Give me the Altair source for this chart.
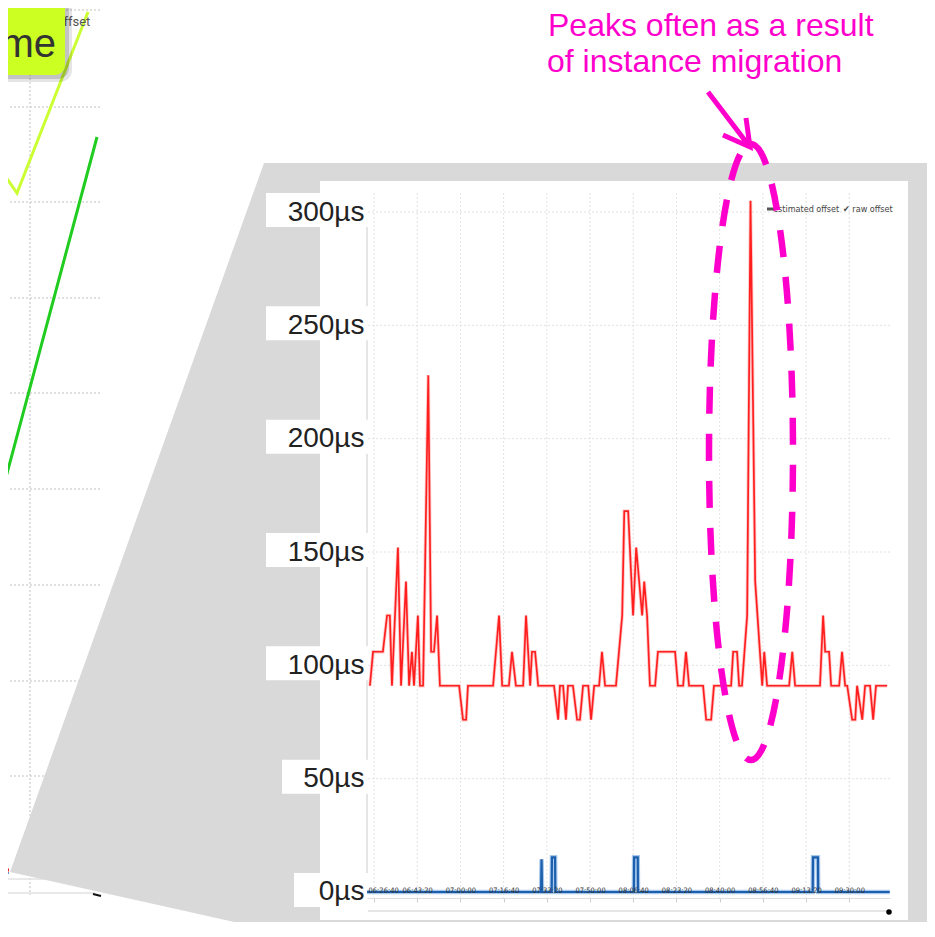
import altair as alt
import pandas as pd

# ---------------- data ----------------
# minutes after 06:00 and raw offset in microseconds
raw_minutes = [
    25.1, 26.3, 30.1, 31.7, 32.8, 33.6, 35.9, 37.1, 39.0, 40.2,
    41.3, 42.1, 43.6, 44.4, 45.6, 47.6, 48.7, 49.8, 51.0, 52.1,
    59.5, 61.0, 62.2, 62.9, 72.6, 74.9, 76.1, 78.7, 79.9, 81.4,
    84.2, 85.3, 86.9, 87.6, 88.8, 90.0, 96.1, 97.7, 98.4, 99.6,
    100.7, 101.5, 103.4, 105.0, 106.1, 107.3, 109.3, 110.4, 111.6, 113.5,
    114.6, 115.8, 120.0, 122.4, 123.2, 124.7, 126.6, 127.8, 130.1, 130.9,
    132.0, 133.1, 135.1, 136.2, 142.8, 143.9, 145.9, 147.0, 148.2, 153.6,
    154.8, 156.7, 157.8, 164.4, 165.2, 166.7, 167.5, 168.6, 170.6, 171.9,
    173.7, 176.4, 177.2, 178.3, 186.8, 188.0, 189.1, 198.7, 199.9, 200.7,
    202.2, 203.0, 206.1, 207.2, 208.4, 209.2, 211.1, 212.3, 213.0, 215.0,
    216.1, 218.0, 219.2, 220.3, 224.6,
]
raw_values = [
    91, 106, 106, 122, 122, 91, 152, 91, 137, 91,
    106, 91, 122, 91, 91, 228, 106, 106, 122, 91,
    91, 76, 76, 91, 91, 122, 91, 91, 106, 91,
    91, 122, 91, 106, 106, 91, 91, 76, 91, 91,
    76, 91, 91, 76, 76, 91, 91, 76, 91, 91,
    106, 91, 91, 122, 168, 168, 122, 152, 122, 137,
    122, 91, 91, 106, 106, 91, 91, 106, 91, 91,
    76, 76, 91, 91, 106, 106, 91, 91, 122, 305,
    137, 91, 106, 91, 91, 106, 91, 91, 122, 106,
    106, 91, 91, 106, 91, 91, 76, 76, 91, 76,
    91, 91, 76, 91, 91,
]
est_minutes = [24.0, 91.1, 91.3, 91.5, 95.2, 95.3, 96.5, 96.6,
               126.9, 127.0, 128.4, 128.5, 195.9, 196.0, 197.9, 198.0, 225.6]
est_values = [0, 0, 14.4, 0, 0, 15.3, 15.3, 0,
              0, 15.3, 15.3, 0, 0, 15.3, 15.3, 0, 0]

y_ticks = [0, 50, 100, 150, 200, 250, 300]
x_tick_labels = ["06:26:40", "06:43:20", "07:00:00", "07:16:40", "07:33:20",
                 "07:50:00", "08:06:40", "08:23:20", "08:40:00", "08:56:40",
                 "09:13:20", "09:30:00"]
domain_start = "06:23:58"
domain_end = "09:45:42"
annotation_lines = ["Peaks often as a result", "of instance migration"]
legend_labels = ["estimated offset", "✔ raw offset"]

DAY = "2017-01-01"


def iso_from_minutes(m):
    t = pd.Timestamp(DAY + " 06:00:00") + pd.Timedelta(minutes=m)
    return t.strftime("%Y-%m-%dT%H:%M:%S")


def dt(hms):
    h, m, s = map(int, hms.split(":"))
    return alt.DateTime(year=2017, month=1, date=1, hours=h, minutes=m, seconds=s)


raw_df = pd.DataFrame({"time": [iso_from_minutes(m) for m in raw_minutes],
                       "offset": raw_values})
est_df = pd.DataFrame({"time": [iso_from_minutes(m) for m in est_minutes],
                       "offset": est_values})
ytick_df = pd.DataFrame({"v": y_ticks})
xtick_df = pd.DataFrame({"time": [DAY + "T" + s for s in x_tick_labels]})
one = pd.DataFrame({"k": [0]})

x_scale = alt.Scale(domain=[dt(domain_start), dt(domain_end)])
y_scale = alt.Scale(domain=[-2.65, 308.4], nice=False, zero=False)

MAGENTA = "#ff00cc"
SMALL = "Liberation Sans Narrow, DejaVu Sans Condensed, Roboto, DejaVu Sans"

X_AXIS = alt.Axis(values=[dt(s) for s in x_tick_labels], format="%H:%M:%S",
                  labelFontSize=7.5, labelFont=SMALL, labelColor="#333333",
                  labelPadding=-16, tickSize=4, tickColor="#cccccc",
                  domainColor="#dddddd", grid=False, zindex=1,
                  labelFlush=9, labelFlushOffset=6, labelOverlap=False, title=None)
Y_AXIS = alt.Axis(values=y_ticks, labelExpr="datum.value + 'µs'",
                  labelFontSize=28, labelFont="Liberation Sans",
                  labelColor="#222222", labelPadding=3, domain=False,
                  ticks=False, grid=False, zindex=1, title=None)


def X(field):
    return alt.X(field, scale=x_scale, axis=X_AXIS, title=None)


def Y(field):
    return alt.Y(field, scale=y_scale, axis=Y_AXIS, title=None)


# plot origin on the page is (367, 193); page-space decorations are
# drawn as 1:1 custom symbol paths anchored at the page origin
OX, OY = -367, -193


def page_path(path, **kw):
    return alt.Chart(one).mark_point(shape=path, size=4, opacity=1, **kw).encode(
        x=alt.value(OX), y=alt.value(OY))


def page_rect(x0, y0, x1, y1, **kw):
    return alt.Chart(one).mark_rect(**kw).encode(
        x=alt.value(x0 + OX), x2=alt.value(x1 + OX),
        y=alt.value(y0 + OY), y2=alt.value(y1 + OY))


def page_text(txt, x, y, **kw):
    return alt.Chart(one).mark_text(text=txt, **kw).encode(
        x=alt.value(x + OX), y=alt.value(y + OY))


# ---- slide background (left, partially hidden chart) ----
left_grid_y = [10, 107, 202, 298, 393, 489, 585, 681, 776]
grid_path = " ".join(f"M -10 {y} L 100 {y}" for y in left_grid_y) + " M 30 -10 L 30 895"
left_grid = page_path(grid_path, filled=False, color="#d6d6d6", strokeWidth=1.5,
                      strokeDash=[2, 2])
green_line = page_path("M 97 137 L -10 537", filled=False, color="#1fcc1f", strokeWidth=3)
yellow_line = page_path("M 88 12 L 17 193 L -6 160", filled=False, color="#ccff33",
                        strokeWidth=3)
offset_txt = page_text("offset", 56, 22, align="left", baseline="middle",
                       font="Roboto", fontSize=13, color="#555555")
callout_shadow1 = page_rect(-8, -8, 72, 82, cornerRadius=12, color="#000000", opacity=0.10)
callout_shadow2 = page_rect(-9, -9, 69, 79, cornerRadius=11, color="#000000", opacity=0.15)
callout = page_rect(-10, -10, 65, 75, cornerRadius=10, color="#ccff22")
callout_txt = page_text("me", 56, 57, align="right", baseline="alphabetic",
                        font="Liberation Sans", fontSize=40, color="#333333")
bottom_lines = page_path("M -5 879 L 45 879 M -5 893 L 95 893", filled=False,
                         color="#e2e2e2", strokeWidth=1.5)
tiny_red = page_path("M -5 870 L 9 870", filled=False, color="#e02020", strokeWidth=3)
tiny_blue = page_path("M -5 873 L 9 873", filled=False, color="#3070c0", strokeWidth=1.5)
tiny_black = page_path("M 93 894 L 101 896", filled=False, color="#111111", strokeWidth=2)

# ---- grey zoom projection and white panel ----
grey = page_path("M 264 163 L 945 163 L 945 950 L 360 950 L 10 872 Z",
                 filled=True, color="#d9d9d9")
red_tri = page_path("M -5 912 L 20 942 L -5 942 Z", filled=True, color="#e8112d")
panel = page_rect(320, 181, 908, 920, color="#ffffff")


# ---- label boxes (white backgrounds behind y labels) ----
def label_boxes(filter_expr, left):
    return alt.Chart(ytick_df).transform_filter(filter_expr).transform_calculate(
        lo="datum.v - 6.6", hi="datum.v + 8.4"
    ).mark_rect(color="#ffffff").encode(
        x=alt.value(left), x2=alt.value(1),
        y=Y("lo:Q"), y2="hi:Q")


boxes3 = label_boxes("datum.v >= 100", -101)
boxes2 = label_boxes("datum.v == 50", -85)
boxes1 = label_boxes("datum.v == 0", -73)

y_domain = alt.Chart(one).mark_rule(color="#cccccc", strokeWidth=1).encode(
    x=alt.value(0), y=alt.value(0), y2=alt.value(705))

# ---- grid ----
hgrid = alt.Chart(ytick_df).mark_rule(color="#e2e2e2", strokeWidth=1, strokeDash=[2, 2]).encode(
    y=Y("v:Q"))
vgrid = alt.Chart(xtick_df).mark_rule(color="#e2e2e2", strokeWidth=1, strokeDash=[2, 2]).encode(
    x=X("time:T"))

# ---- series ----
est_glow = alt.Chart(est_df).mark_line(color="#a9c9ea", strokeWidth=4.5).encode(
    x=X("time:T"), y=Y("offset:Q"))
est_line = alt.Chart(est_df).mark_line(color="#1c5fae", strokeWidth=2.2).encode(
    x=X("time:T"), y=Y("offset:Q"))
raw_glow = alt.Chart(raw_df).mark_line(color="#ff9a9a", strokeWidth=3.4, opacity=0.55).encode(
    x=X("time:T"), y=Y("offset:Q"))
raw_line = alt.Chart(raw_df).mark_line(color="#ff1f1f", strokeWidth=1.7).encode(
    x=X("time:T"), y=Y("offset:Q"))

# ---- legend ----
leg_est = alt.Chart(one).mark_text(text=legend_labels[0], align="left", baseline="middle",
                                   font=SMALL, fontSize=9, color="#444444").encode(
    x=alt.value(406), y=alt.value(16))
leg_icon = alt.Chart(one).mark_rule(color="#555555", strokeWidth=3).encode(
    x=alt.value(400), x2=alt.value(407), y=alt.value(16))
leg_raw = alt.Chart(one).mark_text(text=legend_labels[1], align="left", baseline="middle",
                                   font=SMALL, fontSize=9, color="#444444").encode(
    x=alt.value(476), y=alt.value(16))

# ---- range slider ----
slider = alt.Chart(one).mark_rule(color="#e6e6e6", strokeWidth=2).encode(
    x=alt.value(1), x2=alt.value(523), y=alt.value(718))
slider_dot = alt.Chart(one).mark_point(filled=True, color="#000000", size=30, opacity=1).encode(
    x=alt.value(522), y=alt.value(719))

# ---- annotation ----
ellipse = alt.Chart(one).mark_point(
    shape="M 0 -308 A 42 308 0 1 1 0 308 A 42 308 0 1 1 0 -308",
    size=4, opacity=1, filled=False, color=MAGENTA, strokeWidth=6.5,
    strokeDash=[27, 20]).encode(x=alt.value(751 + OX), y=alt.value(452 + OY))
arrow = page_path("M 708 92 L 750 147 M 746 118 L 750 147 L 723 135",
                  filled=False, color=MAGENTA, strokeWidth=5)
note1 = page_text(annotation_lines[0], 548, 36, align="left", baseline="alphabetic",
                  font="Liberation Sans", fontSize=32, color=MAGENTA)
note2 = page_text(annotation_lines[1], 547, 72, align="left", baseline="alphabetic",
                  font="Liberation Sans", fontSize=32, color=MAGENTA)

chart = alt.layer(
    left_grid, green_line, yellow_line, offset_txt,
    callout_shadow1, callout_shadow2, callout, callout_txt,
    bottom_lines, tiny_red, tiny_blue, tiny_black,
    grey, red_tri, panel,
    vgrid, hgrid, y_domain, boxes3, boxes2, boxes1,
    est_glow, est_line, raw_glow, raw_line,
    leg_est, leg_icon, leg_raw, slider, slider_dot,
    ellipse, arrow, note1, note2,
).properties(
    width=523, height=705,
    padding={"left": 359, "top": 185, "right": 37, "bottom": 24},
    autosize=alt.AutoSizeParams(type="none"),
).configure(background="#ffffff").configure_view(stroke=None)

chart.save("out.html", embed_options={"renderer": "svg", "actions": False})
